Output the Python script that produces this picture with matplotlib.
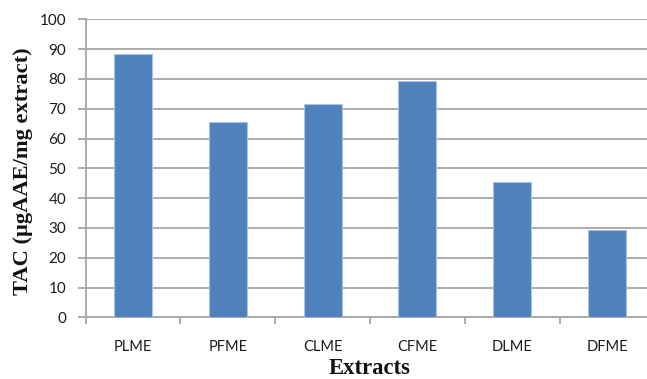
import matplotlib
matplotlib.use("Agg")
import matplotlib.pyplot as plt
import numpy as np

# Total antioxidant capacity per extract
extracts = ["PLME", "PFME", "CLME", "CFME", "DLME", "DFME"]
tac_values = [88.4, 65.4, 71.7, 79.3, 45.5, 29.4]
y_ticks = [0, 10, 20, 30, 40, 50, 60, 70, 80, 90, 100]

W, H = 647, 379
fig = plt.figure(figsize=(W / 100, H / 100), dpi=100)
fig.patch.set_facecolor("white")

# plot area in pixel coordinates (right side runs past the canvas edge)
left_px, right_px, top_px, bottom_px = 85.6, 654.4, 19.3, 317.3
ax = fig.add_axes([left_px / W, 1 - bottom_px / H,
                   (right_px - left_px) / W, (bottom_px - top_px) / H])

x = np.arange(len(extracts))
ax.bar(x, tac_values, width=0.4, color="#4F81BD", edgecolor="#A9C2E0",
       linewidth=0.8, zorder=3)

ax.set_xlim(-0.5, len(extracts) - 0.5)
ax.set_ylim(0, 100)

grid_c = "#A6A6A6"
ax.set_yticks(y_ticks)
ax.yaxis.grid(True, color=grid_c, linewidth=1.3, zorder=0)
ax.set_axisbelow(True)

for s in ["top", "right"]:
    ax.spines[s].set_visible(False)
for s in ["left", "bottom"]:
    ax.spines[s].set_color(grid_c)
    ax.spines[s].set_linewidth(1.3)

tick_font = "Lato"
ax.tick_params(axis="y", direction="out", length=6, width=1.3, color=grid_c,
               pad=8, labelsize=11, labelcolor="#1a1a1a")
for lbl in ax.get_yticklabels():
    lbl.set_fontfamily(tick_font)

# category labels centred on bars, ticks on category boundaries
ax.set_xticks(x)
ax.set_xticklabels(extracts, fontfamily=tick_font, fontsize=10.5, color="#1a1a1a")
ax.tick_params(axis="x", which="major", length=0, pad=16)
ax.set_xticks(np.arange(-0.5, len(extracts)), minor=True)
ax.tick_params(axis="x", which="minor", direction="out", length=5, width=1.3,
               color=grid_c)

fig.text(23.5 / W, 1 - 171 / H, "TAC (µgAAE/mg extract)", rotation=90,
         ha="center", va="center", fontfamily="Liberation Serif",
         fontweight="bold", fontsize=16.2, color="#111111")
fig.text(370 / W, 1 - 374 / H, "Extracts", ha="center", va="baseline",
         fontfamily="Liberation Serif", fontweight="bold", fontsize=16.3,
         color="#111111")

fig.savefig("out.png", dpi=100, facecolor="white")
